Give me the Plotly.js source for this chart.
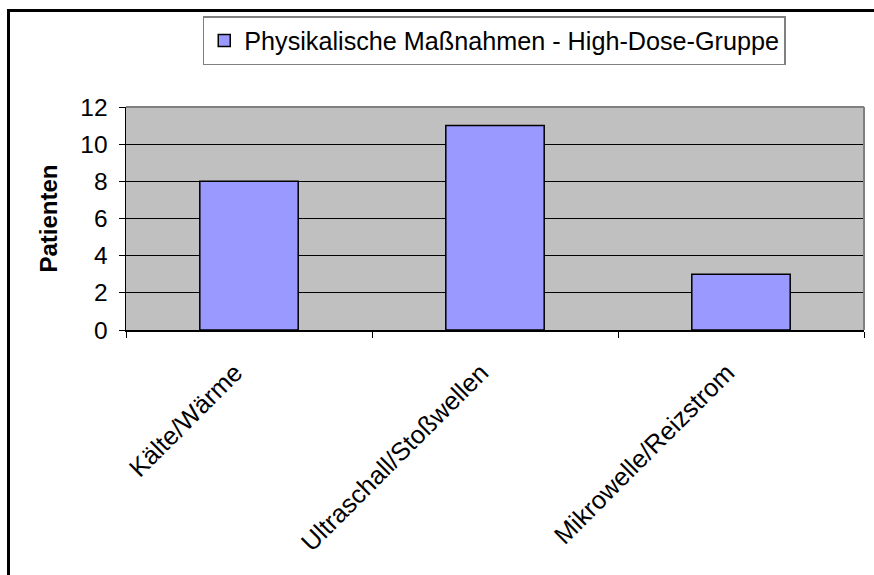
<!DOCTYPE html>
<html>
<head>
<meta charset="utf-8">
<script src="https://cdn.plot.ly/plotly-3.0.1.min.js"></script>
<style>
  html, body { margin: 0; padding: 0; background: #fff; }
  #wrap { position: relative; width: 874px; height: 575px; overflow: hidden; }
  #chart { width: 874px; height: 575px; }
  #frame { position: absolute; left: 7px; top: 9px; width: 900px; height: 600px;
           border-left: 3px solid #000; border-top: 3px solid #000; pointer-events: none; }
</style>
</head>
<body>
<div id="wrap">
  <div id="chart"></div>
  <div id="frame"></div>
</div>
<script>
var categories = ["Kälte/Wärme", "Ultraschall/Stoßwellen", "Mikrowelle/Reizstrom"];
var patients = [8, 11, 3];
var seriesName = "Physikalische Maßnahmen - High-Dose-Gruppe";
var yTickVals = [0, 2, 4, 6, 8, 10, 12];

var FONT = "Arial, 'Liberation Sans', sans-serif";

var trace = {
  type: "bar",
  x: categories,
  y: patients,
  name: seriesName,
  width: 0.4,
  marker: { color: "#9999FF", line: { color: "#000000", width: 1.5 } },
  showlegend: true,
  hoverinfo: "x+y"
};

var layout = {
  width: 874,
  height: 575,
  margin: { l: 126, r: 10, t: 107, b: 245 },
  paper_bgcolor: "#ffffff",
  plot_bgcolor: "#C0C0C0",
  font: { family: FONT, color: "#000000", size: 24 },
  showlegend: true,
  legend: {
    x: 0.104, y: 1.408, xanchor: "left", yanchor: "top",
    bgcolor: "#ffffff", bordercolor: "#808080", borderwidth: 1.5,
    font: { family: FONT, size: 25.2, color: "#000000" }
  },
  xaxis: {
    type: "category",
    tickangle: -45,
    ticks: "outside",
    tickson: "boundaries",
    ticklen: 6,
    tickcolor: "#000000",
    showline: true,
    linecolor: "#000000",
    linewidth: 1.5,
    showgrid: false,
    ticklabelstandoff: 16,
    ticklabelshift: -14,
    tickfont: { family: FONT, size: 25.5, color: "#000000" }
  },
  yaxis: {
    range: [0, 12],
    tickvals: yTickVals,
    ticks: "outside",
    ticklen: 6,
    tickcolor: "#000000",
    showline: true,
    linecolor: "#000000",
    linewidth: 1.5,
    showgrid: true,
    gridcolor: "#000000",
    gridwidth: 1,
    zeroline: false,
    ticklabelstandoff: 6,
    tickfont: { family: FONT, size: 24.5, color: "#000000" },
    title: { text: "<b>Patienten</b>", font: { family: FONT, size: 24, color: "#000000" }, standoff: 16 }
  },
  shapes: [
    { type: "line", xref: "paper", yref: "paper", x0: 0, x1: 1, y0: 1, y1: 1,
      line: { color: "#808080", width: 2 } },
    { type: "line", xref: "paper", yref: "paper", x0: 1, x1: 1, y0: 0, y1: 1,
      line: { color: "#808080", width: 2 } }
  ]
};

Plotly.newPlot("chart", [trace], layout, { displayModeBar: false, staticPlot: true });
</script>
</body>
</html>
